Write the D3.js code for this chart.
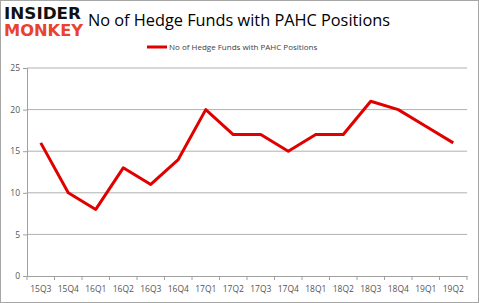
<!DOCTYPE html>
<html>
<head>
<meta charset="utf-8">
<script src="https://cdn.jsdelivr.net/npm/d3@7"></script>
<style>
body{margin:0;background:#fff;}
text{font-family:"Open Sans",Calibri,sans-serif;}
</style>
</head>
<body>
<div id="canvas"></div>
<script>
// quarters and the hedge fund counts
var quarters = ['15Q3','15Q4','16Q1','16Q2','16Q3','16Q4','17Q1','17Q2','17Q3','17Q4','18Q1','18Q2','18Q3','18Q4','19Q1','19Q2'];
var funds = [16,10,8,13,11,14,20,17,17,15,17,17,21,20,18,16];
var yTicks = [0,5,10,15,20,25];
var title = 'No of Hedge Funds with PAHC Positions';

var W = 479, H = 303;
var m = {t:68,r:12,b:27,l:27};
var w = W - m.l - m.r, h = H - m.t - m.b;

var svg = d3.select('#canvas').append('svg')
    .attr('width',W).attr('height',H);

// outer border
svg.append('rect').attr('x',0.5).attr('y',0.5).attr('width',W-1).attr('height',H-1)
    .attr('fill','#fff').attr('stroke','#a6a6a6');

// logo
svg.append('text').attr('x',4).attr('y',19).text('INSIDER')
    .style('font-family','"DejaVu Sans",sans-serif').style('font-weight','bold')
    .style('font-size','15px').attr('fill','#111').attr('textLength',77).attr('lengthAdjust','spacingAndGlyphs');
svg.append('text').attr('x',4).attr('y',36).text('MONKEY')
    .style('font-family','"DejaVu Sans",sans-serif').style('font-weight','bold')
    .style('font-size','15px').attr('fill','#e8432f').attr('textLength',79).attr('lengthAdjust','spacingAndGlyphs');

svg.append('text').attr('x',88).attr('y',26).text(title)
    .style('font-size','16.5px').attr('fill','#000').attr('textLength',302).attr('lengthAdjust','spacingAndGlyphs');

// legend
svg.append('line').attr('x1',147).attr('x2',167).attr('y1',47).attr('y2',47)
    .attr('stroke','#e00000').attr('stroke-width',3);
svg.append('text').attr('x',169).attr('y',50).text(title)
    .style('font-size','8px').attr('fill','#404040');

var plot = svg.append('g').attr('transform','translate('+m.l+','+m.t+')');

var x = d3.scaleBand().domain(quarters).range([0,w]);
var y = d3.scaleLinear().domain([0,25]).range([h,0]);

// gridlines
plot.selectAll('.grid').data(yTicks.slice(1)).enter().append('line')
    .attr('x1',0).attr('x2',w)
    .attr('y1',function(d){return y(d);}).attr('y2',function(d){return y(d);})
    .attr('stroke','#b0b0b0').attr('stroke-width',1);

var axisY = d3.axisLeft(y).tickValues(yTicks).tickSize(4).tickPadding(3);
var gy = plot.append('g').call(axisY);
gy.select('.domain').attr('stroke','#a0a0a0');
gy.selectAll('.tick line').attr('stroke','#a0a0a0');
gy.selectAll('text').style('font-size','8.5px').attr('fill','#555')
    .style('font-family','"Open Sans",sans-serif');

var gx = plot.append('g').attr('transform','translate(0,'+h+')')
    .call(d3.axisBottom(x).tickSize(0).tickPadding(10));
gx.select('.domain').attr('stroke','#a0a0a0');
gx.selectAll('text').style('font-size','8.5px').attr('fill','#555')
    .style('font-family','"Open Sans",sans-serif');
// tick marks at band edges
var edges = quarters.map(function(q){return x(q);}).concat([w]);
gx.selectAll('.edge').data(edges).enter().append('line')
    .attr('x1',function(d){return d;}).attr('x2',function(d){return d;})
    .attr('y1',0).attr('y2',4).attr('stroke','#a0a0a0');

var line = d3.line()
    .x(function(d,i){return x(quarters[i]) + x.bandwidth()/2;})
    .y(function(d){return y(d);});

plot.append('path').datum(funds).attr('d',line)
    .attr('fill','none').attr('stroke','#e00000').attr('stroke-width',3)
    .attr('stroke-linejoin','round');
</script>
</body>
</html>
